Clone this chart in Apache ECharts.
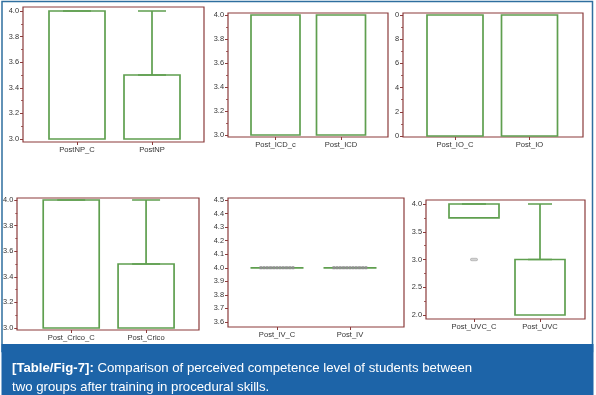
<!DOCTYPE html>
<html>
<head>
<meta charset="utf-8">
<script src="https://cdn.jsdelivr.net/npm/echarts@6/dist/echarts.min.js"></script>
<style>html,body{margin:0;padding:0;background:#fff}#c{width:596px;height:395px}</style>
</head>
<body>
<div id="c"></div>
<script>
// ---- data ----
const catNP = ['PostNP_C', 'PostNP'];
const boxNP = [[3, 3, 4, 4, 4], [3, 3, 3, 3.5, 4]];           // [min, Q1, median, Q3, max]
const yTicksNP = [3.0, 3.2, 3.4, 3.6, 3.8, 4.0];

const catICD = ['Post_ICD_c', 'Post_ICD'];
const boxICD = [[3, 3, 4, 4, 4], [3, 3, 4, 4, 4]];
const yTicksICD = [3.0, 3.2, 3.4, 3.6, 3.8, 4.0];

const catIO = ['Post_IO_C', 'Post_IO'];
const boxIO = [[3, 3, 4, 4, 4], [3, 3, 4, 4, 4]];
const yTicksIO = [3.0, 3.2, 3.4, 3.6, 3.8, 4.0];
const yLabelsIO = ['0', '2', '4', '6', '8', '0'];   // labels as visible (clipped) in the source

const catCrico = ['Post_Crico_C', 'Post_Crico'];
const boxCrico = [[3, 3, 4, 4, 4], [3, 3, 3, 3.5, 4]];
const yTicksCrico = [3.0, 3.2, 3.4, 3.6, 3.8, 4.0];

const catIV = ['Post_IV_C', 'Post_IV'];
const boxIV = [[4, 4, 4, 4, 4], [4, 4, 4, 4, 4]];
const pointsIV = [4, 4];
const yTicksIV = [3.6, 3.7, 3.8, 3.9, 4.0, 4.1, 4.2, 4.3, 4.4, 4.5];

const catUVC = ['Post_UVC_C', 'Post_UVC'];
const boxUVC = [[3.75, 3.75, 4, 4, 4], [2, 2, 2, 3, 4]];
const outlierUVC = [[0, 3.0]];
const yTicksUVC = [2.0, 2.5, 3.0, 3.5, 4.0];

const captionBold = '[Table/Fig-7]:';
const captionLine1 = ' Comparison of perceived competence level of students between';
const captionLine2 = 'two groups after training in procedural skills.';

// ---- layout / style ----
const FONT = '"Liberation Sans", Arial, sans-serif';
const GREEN = '#5f9f4f';
const FRAME = '#8b3b3b';
const panels = [
  { cats: catNP, box: boxNP, ticks: yTicksNP, frame: [23, 7, 204, 142], data: [39.5, 11, 189.5, 139], bw: 56, cw: 28 },
  { cats: catICD, box: boxICD, ticks: yTicksICD, frame: [228, 13, 388, 137], data: [242.75, 15, 373.75, 135], bw: 49, cw: 25 },
  { cats: catIO, box: boxIO, ticks: yTicksIO, labels: yLabelsIO, frame: [403, 13, 583, 137], data: [417.75, 15, 566.75, 136], bw: 56, cw: 28 },
  { cats: catCrico, box: boxCrico, ticks: yTicksCrico, frame: [17, 198, 199, 330], data: [33.5, 200, 183.5, 328], bw: 56, cw: 28 },
  { cats: catIV, box: boxIV, ticks: yTicksIV, points: pointsIV, frame: [228, 198, 404, 327], data: [240.5, 200, 386.5, 322], bw: 53, cw: 26, dw: 35, noMinor: true },
  { cats: catUVC, box: boxUVC, ticks: yTicksUVC, outliers: outlierUVC, frame: [426, 200, 585, 319], data: [441, 204, 573, 315], bw: 50, cw: 24 }
];

const grid = [], xAxis = [], yAxis = [], series = [];
panels.forEach((p) => {
  const [fl, ft, fr, fb] = p.frame;
  const [dl, dt, dr, db] = p.data;
  const gF = grid.length;
  grid.push({ left: fl, top: ft, width: fr - fl, height: fb - ft, show: true, borderColor: FRAME, borderWidth: 1.2, backgroundColor: 'transparent' });
  const gD = grid.length;
  grid.push({ left: dl, top: dt, width: dr - dl, height: db - dt });
  xAxis.push({ gridIndex: gF, type: 'value', show: false });
  yAxis.push({ gridIndex: gF, type: 'value', show: false });
  const xMain = xAxis.length;
  xAxis.push({
    gridIndex: gD, type: 'category', data: p.cats, position: 'bottom', offset: fb - db,
    axisLine: { show: false },
    axisTick: { show: true, alignWithLabel: true, length: 3, lineStyle: { color: FRAME, width: 1 } },
    axisLabel: { fontSize: 7.6, color: '#333', fontFamily: FONT, margin: 4 }
  });
  const xHid = xAxis.length;
  xAxis.push({ gridIndex: gD, type: 'category', data: p.cats, show: false });
  const xHid2 = xAxis.length;
  xAxis.push({ gridIndex: gD, type: 'category', data: p.cats, show: false });
  const yMain = yAxis.length;
  const t = p.ticks;
  yAxis.push({
    gridIndex: gD, type: 'value', position: 'left', offset: dl - fl,
    min: t[0], max: t[t.length - 1], interval: +(t[1] - t[0]).toFixed(2),
    axisLine: { show: false },
    splitLine: { show: false },
    axisTick: { show: true, length: 3, lineStyle: { color: FRAME, width: 1 } },
    minorTick: { show: !p.noMinor, splitNumber: 2, length: 2, lineStyle: { color: FRAME, width: 0.8 } },
    axisLabel: {
      fontSize: 7.4, color: '#333', fontFamily: FONT, margin: 4,
      formatter: (v) => {
        if (p.labels) {
          const i = t.findIndex(x => Math.abs(x - v) < 1e-6);
          return i >= 0 ? p.labels[i] : '';
        }
        return v.toFixed(1);
      }
    }
  });
  series.push({
    type: 'boxplot', xAxisIndex: xMain, yAxisIndex: yMain, boxWidth: [p.bw, p.bw],
    itemStyle: { color: 'transparent', borderColor: GREEN, borderWidth: 1.7 },
    emphasis: { disabled: true }, silent: true,
    data: p.box.map(b => [b[0], b[1], b[2], b[3], b[3]])
  });
  if (p.box.some(b => b[4] > b[3])) {
    series.push({
      type: 'boxplot', xAxisIndex: xHid, yAxisIndex: yMain, boxWidth: [p.cw, p.cw],
      itemStyle: { color: 'transparent', borderColor: GREEN, borderWidth: 1.7 },
      emphasis: { disabled: true }, silent: true,
      data: p.box.map(b => [b[3], b[3], b[3], b[3], b[4]])
    });
  }
  if (p.points) {
    series.push({
      type: 'boxplot', xAxisIndex: xHid2, yAxisIndex: yMain, boxWidth: [p.dw, p.dw],
      itemStyle: { color: 'transparent', borderColor: '#8e8e8e', borderWidth: 3, borderType: [2, 1.2] },
      emphasis: { disabled: true }, silent: true,
      data: p.points.map(v => [v, v, v, v, v])
    });
  }
  if (p.outliers) {
    series.push({
      type: 'scatter', xAxisIndex: xMain, yAxisIndex: yMain,
      symbol: 'roundRect', symbolSize: [7, 2.5],
      itemStyle: { color: '#c8c8c8', borderColor: '#8a8a8a', borderWidth: 0.5 },
      emphasis: { disabled: true }, silent: true,
      data: p.outliers
    });
  }
});

const chart = echarts.init(document.getElementById('c'), null, { renderer: 'canvas' });
chart.setOption({
  animation: false,
  backgroundColor: '#fff',
  graphic: [
    { type: 'rect', z: -10, shape: { x: 2, y: 1.5, width: 590.5, height: 350 }, style: { fill: '#fff', stroke: '#2f6f9f', lineWidth: 1.5 } },
    { type: 'rect', z: -9, shape: { x: 1.5, y: 344, width: 592, height: 51 }, style: { fill: '#1d64a8' } }
  ],
  title: {
    left: 7, top: 354,
    text: '{b|' + captionBold + '}' + captionLine1 + '\n' + captionLine2,
    textStyle: {
      color: '#fff', fontSize: 13.2, fontWeight: 'normal', fontFamily: FONT, lineHeight: 19,
      rich: { b: { color: '#fff', fontSize: 13.2, fontWeight: 'bold', fontFamily: FONT, lineHeight: 19 } }
    }
  },
  grid, xAxis, yAxis, series
});
</script>
</body>
</html>
